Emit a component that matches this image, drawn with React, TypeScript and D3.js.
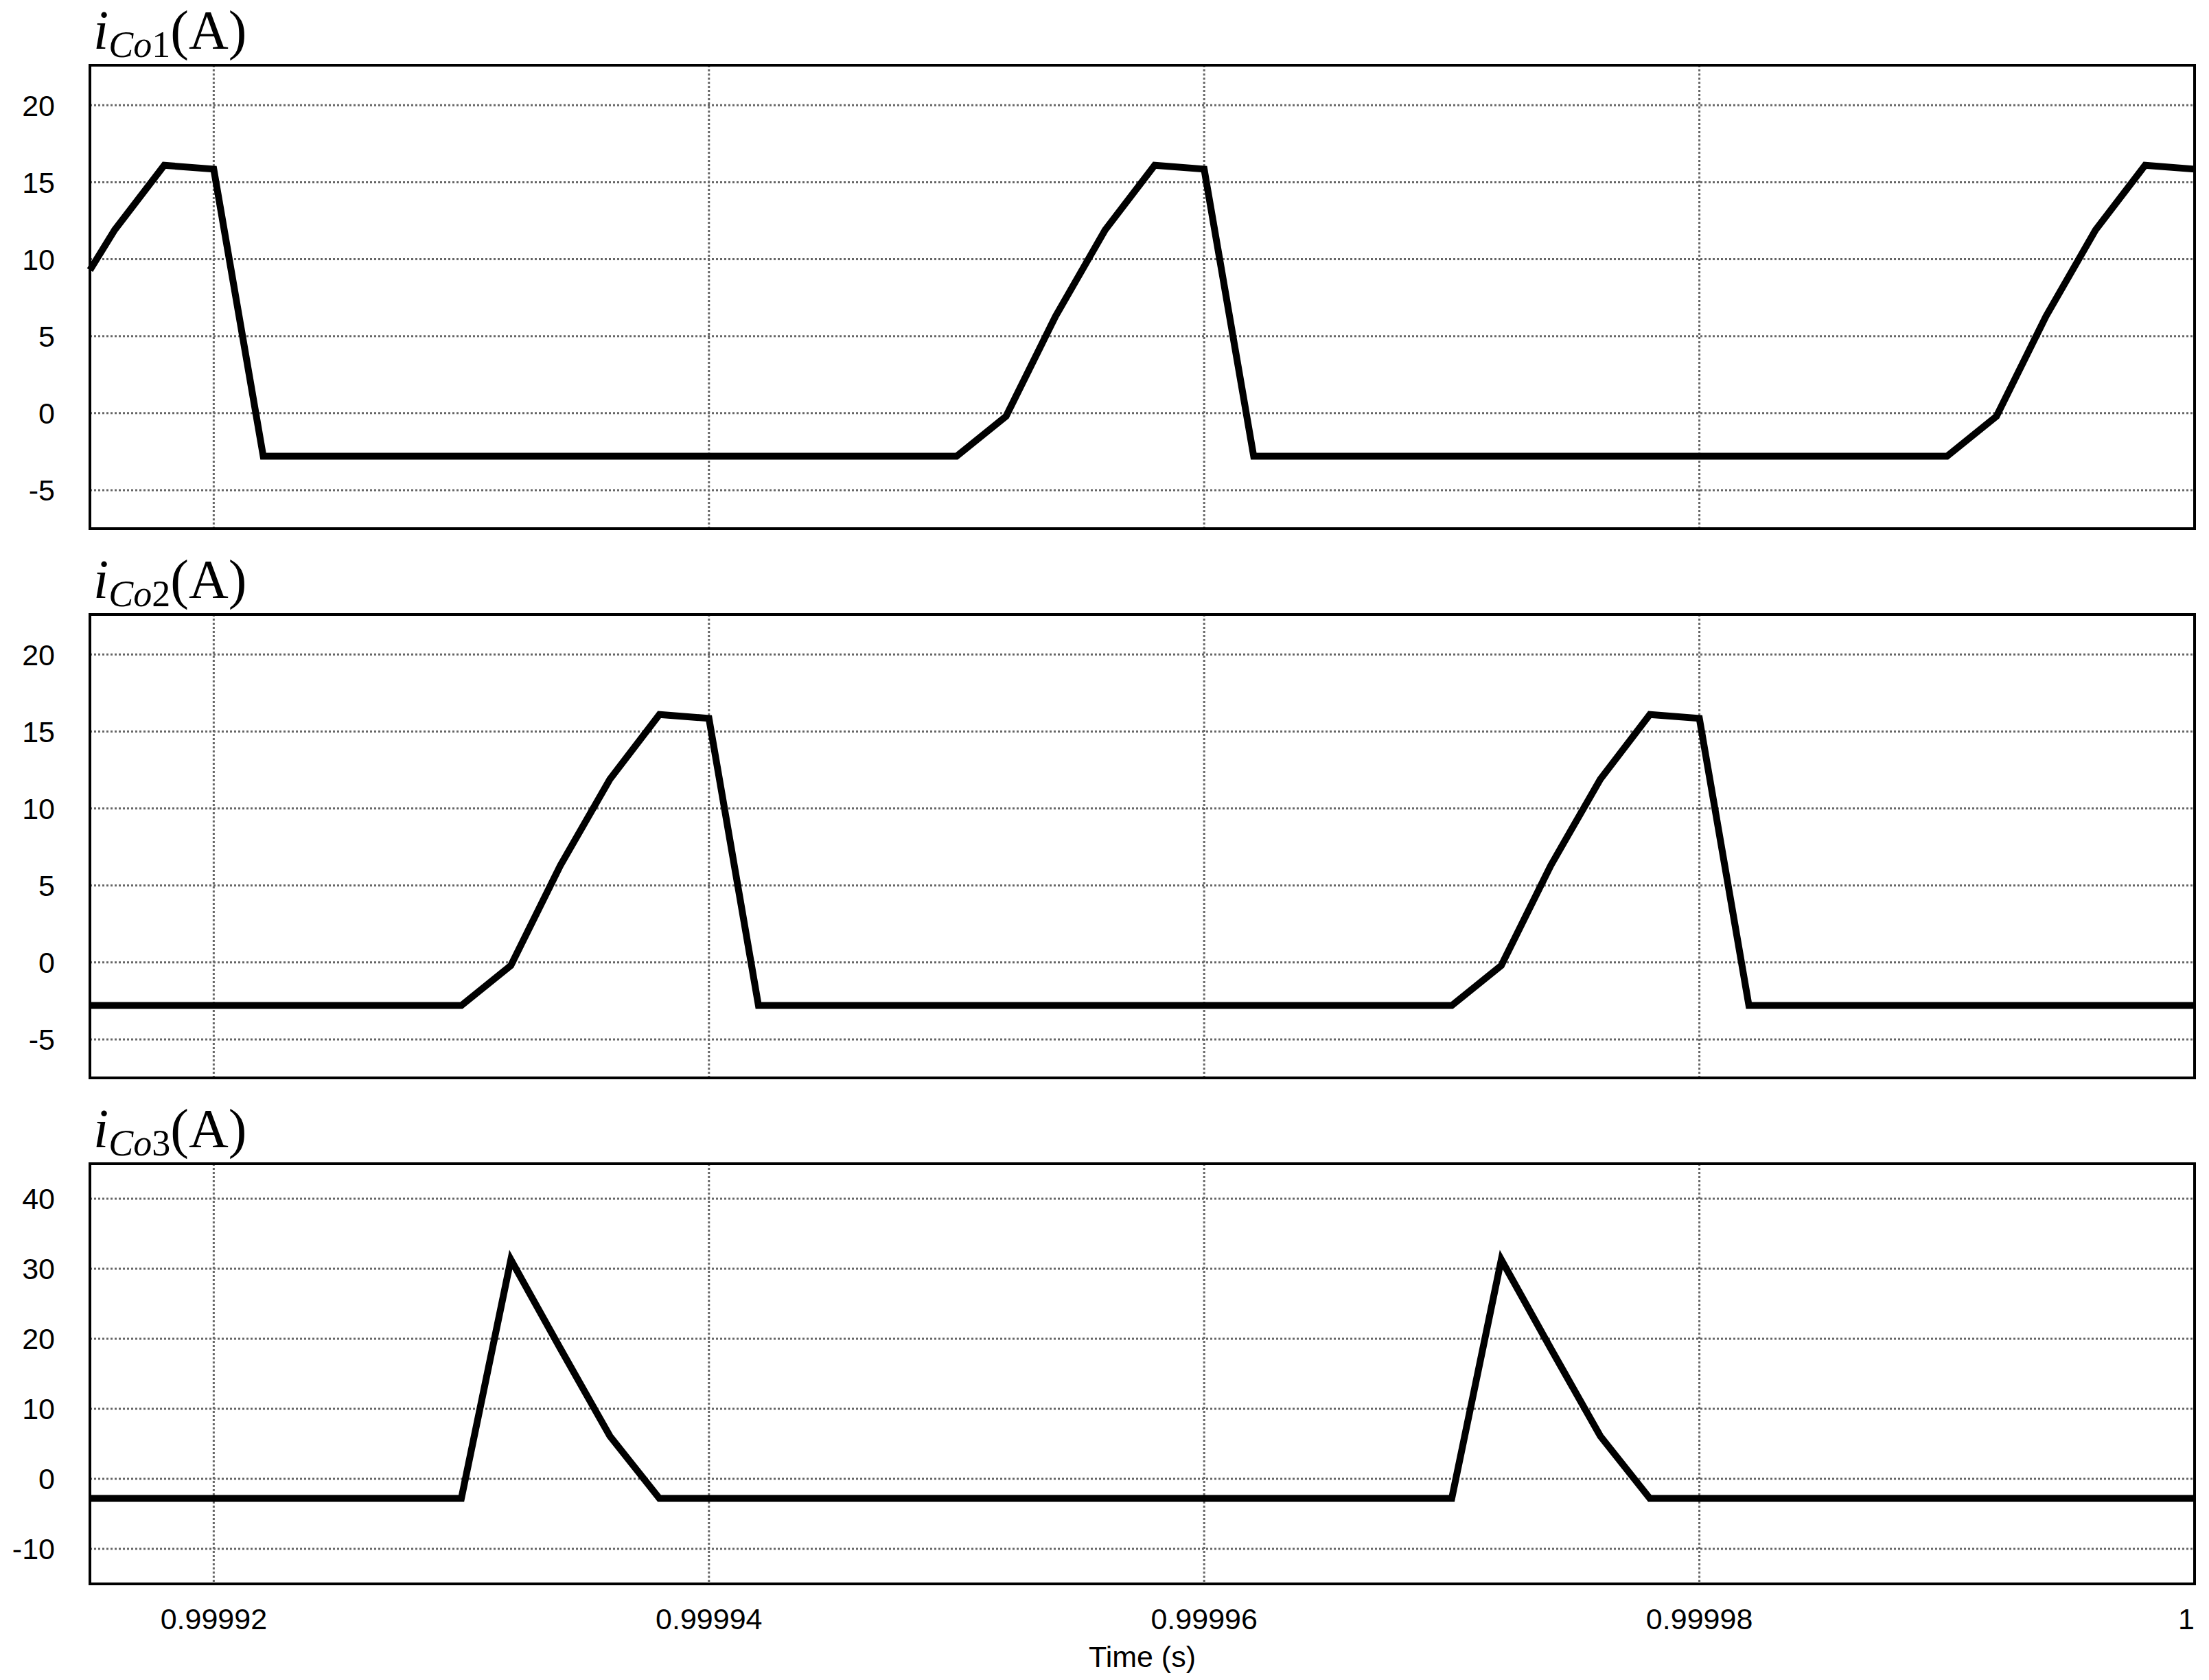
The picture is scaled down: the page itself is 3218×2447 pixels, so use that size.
import React, { useEffect, useRef } from 'react'
import * as d3 from 'd3'

// time stamps (s) and capacitor currents (A)
const tCo1 = [0.999915, 0.999916, 0.999918, 0.99992, 0.999922, 0.99995, 0.999952, 0.999954, 0.999956, 0.999958, 0.99996, 0.999962, 0.99999, 0.999992, 0.999994, 0.999996, 0.999998, 1.0]
const iCo1 = [9.3, 11.9, 16.1, 15.85, -2.8, -2.8, -0.2, 6.3, 11.9, 16.1, 15.85, -2.8, -2.8, -0.2, 6.3, 11.9, 16.1, 15.85]

const tCo2 = [0.999915, 0.99993, 0.999932, 0.999934, 0.999936, 0.999938, 0.99994, 0.999942, 0.99997, 0.999972, 0.999974, 0.999976, 0.999978, 0.99998, 0.999982, 1.0]
const iCo2 = [-2.8, -2.8, -0.2, 6.3, 11.9, 16.1, 15.85, -2.8, -2.8, -0.2, 6.3, 11.9, 16.1, 15.85, -2.8, -2.8]

const tCo3 = [0.999915, 0.99993, 0.999932, 0.999934, 0.999936, 0.999938, 0.99997, 0.999972, 0.999974, 0.999976, 0.999978, 1.0]
const iCo3 = [-2.8, -2.8, 31.3, 18.6, 6.1, -2.8, -2.8, 31.3, 18.6, 6.1, -2.8, -2.8]

const timeTicks = [0.99992, 0.99994, 0.99996, 0.99998, 1]
const timeTickLabels = ['0.99992', '0.99994', '0.99996', '0.99998', '1']
const ticksSmall = [-5, 0, 5, 10, 15, 20]
const ticksLarge = [-10, 0, 10, 20, 30, 40]

const W = 3218
const H = 2447
const left = 131
const right = 3197

const panels = [
  { sub: 'Co', num: '1', t: tCo1, v: iCo1, top: 95, bottom: 770, domain: [-7.5, 22.6], ticks: ticksSmall },
  { sub: 'Co', num: '2', t: tCo2, v: iCo2, top: 895, bottom: 1570, domain: [-7.5, 22.6], ticks: ticksSmall },
  { sub: 'Co', num: '3', t: tCo3, v: iCo3, top: 1695, bottom: 2307, domain: [-15, 45], ticks: ticksLarge },
]

const App = () => {
  const svgRef = useRef<SVGSVGElement>(null)

  useEffect(() => {
    const svg = d3.select(svgRef.current)
    svg.selectAll('*').remove()
    svg.attr('width', W).attr('height', H).style('background', '#fff')

    const x = d3.scaleLinear().domain([0.999915, 1.0]).range([left, right])

    panels.forEach((p, k) => {
      const y = d3.scaleLinear().domain(p.domain).range([p.bottom, p.top])
      const g = svg.append('g')

      // dotted grid
      g.selectAll('line.hg')
        .data(p.ticks)
        .enter()
        .append('line')
        .attr('x1', left)
        .attr('x2', right)
        .attr('y1', (d) => y(d))
        .attr('y2', (d) => y(d))
        .attr('stroke', '#666')
        .attr('stroke-width', 3)
        .attr('stroke-dasharray', '3,3')

      g.selectAll('line.vg')
        .data(timeTicks.filter((d) => d < 1))
        .enter()
        .append('line')
        .attr('x1', (d) => x(d))
        .attr('x2', (d) => x(d))
        .attr('y1', p.top)
        .attr('y2', p.bottom)
        .attr('stroke', '#666')
        .attr('stroke-width', 3)
        .attr('stroke-dasharray', '3,3')

      // y tick labels
      g.selectAll('text.yt')
        .data(p.ticks)
        .enter()
        .append('text')
        .attr('x', 80)
        .attr('y', (d) => y(d))
        .attr('dy', '0.36em')
        .attr('text-anchor', 'end')
        .style('font-family', '"Liberation Sans", Arial, sans-serif')
        .style('font-size', '43px')
        .text((d) => d)

      // waveform
      const line = d3
        .line<number>()
        .x((d, i) => x(p.t[i]))
        .y((d) => y(d))
      g.append('path')
        .datum(p.v)
        .attr('d', line)
        .attr('fill', 'none')
        .attr('stroke', '#000')
        .attr('stroke-width', 10)
        .attr('stroke-linejoin', 'miter')

      // frame
      g.append('rect')
        .attr('x', left)
        .attr('y', p.top)
        .attr('width', right - left)
        .attr('height', p.bottom - p.top)
        .attr('fill', 'none')
        .attr('stroke', '#000')
        .attr('stroke-width', 4)

      // title  i_Co#(A)
      const title = g
        .append('text')
        .attr('x', 136)
        .attr('y', p.top - 24)
        .style('font-family', '"Liberation Serif", "Times New Roman", serif')
        .style('font-size', '80px')
      title.append('tspan').style('font-style', 'italic').text('i')
      title.append('tspan').attr('dy', 12).style('font-size', '54px').style('font-style', 'italic').text(p.sub)
      title.append('tspan').style('font-size', '54px').text(p.num)
      title.append('tspan').attr('dy', -12).text('(A)')

      if (k === panels.length - 1) {
        g.selectAll('text.xt')
          .data(timeTicks)
          .enter()
          .append('text')
          .attr('x', (d) => x(d))
          .attr('y', 2373)
          .attr('text-anchor', (d, i) => (i === timeTicks.length - 1 ? 'end' : 'middle'))
          .style('font-family', '"Liberation Sans", Arial, sans-serif')
          .style('font-size', '43px')
          .text((d, i) => timeTickLabels[i])

        g.append('text')
          .attr('x', (left + right) / 2)
          .attr('y', 2428)
          .attr('text-anchor', 'middle')
          .style('font-family', '"Liberation Sans", Arial, sans-serif')
          .style('font-size', '43px')
          .text('Time (s)')
      }
    })
  }, [])

  return <svg ref={svgRef} style={{ position: 'absolute', left: 0, top: 0, display: 'block' }}></svg>
}

export default App
